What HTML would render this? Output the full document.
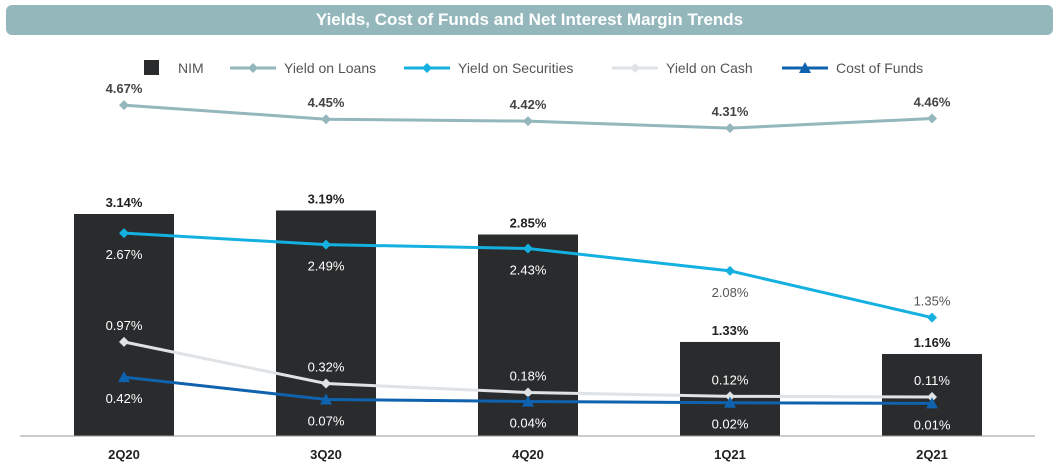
<!DOCTYPE html>
<html><head><meta charset="utf-8"><style>
body{margin:0;background:#fff;font-family:"Liberation Sans",Arial,sans-serif}
#wrap{position:relative;width:1059px;height:471px;overflow:hidden}
#title{position:absolute;left:6px;top:5px;width:1047px;height:30px;background:#93b7bb;border-radius:6px;color:#fff;font-weight:bold;font-size:17px;text-align:center;line-height:30px}
</style></head><body>
<div id="wrap">
<div id="title">Yields, Cost of Funds and Net Interest Margin Trends</div>
<svg id="svg" width="1059" height="471" style="position:absolute;left:0;top:0"></svg>
</div>
<script>
const categories=["2Q20","3Q20","4Q20","1Q21","2Q21"];
const nim=[3.14,3.19,2.85,1.33,1.16];
const loans=[4.67,4.45,4.42,4.31,4.46];
const securities=[2.67,2.49,2.43,2.08,1.35];
const cash=[0.97,0.32,0.18,0.12,0.11];
const cof=[0.42,0.07,0.04,0.02,0.01];
const NS="http://www.w3.org/2000/svg";
const svg=document.getElementById('svg');
function mk(t,a,parent){const e=document.createElementNS(NS,t);for(const k in a)e.setAttribute(k,a[k]);(parent||svg).appendChild(e);return e;}
const xc=i=>124+i*202;
const yBar=v=>436-v*70.7;
const yLine=v=>404-v*64;
// bars
nim.forEach((v,i)=>{
 const r=mk('rect',{x:xc(i)-50,y:yBar(v),width:100,height:436-yBar(v),fill:'#2a2b2d'});
 
 
 const t=mk('text',{x:xc(i),y:yBar(v)-7,'text-anchor':'middle','font-size':13,'font-weight':'bold',fill:'#222'});
 t.textContent=v.toFixed(2)+'%';
 
 
});
// axis
const ax=mk('line',{x1:20,x2:1035,y1:436,y2:436,stroke:'#999','stroke-width':1});


categories.forEach((c,i)=>{const t=mk('text',{x:xc(i),y:459,'text-anchor':'middle','font-size':13,'font-weight':'bold',fill:'#222'});t.textContent=c;
 
 });
function onBar(i,y){return y>yBar(nim[i])+4;}
function series(vals,color,name,marker,labelPos,bold){
 const pts=vals.map((v,i)=>xc(i)+','+yLine(v)).join(' ');
 const pl=mk('polyline',{points:pts,fill:'none',stroke:color,'stroke-width':3});
 
 
 vals.forEach((v,i)=>{
  const x=xc(i),y=yLine(v);let m;
  if(marker==='d')m=mk('polygon',{points:`${x},${y-5} ${x+5},${y} ${x},${y+5} ${x-5},${y}`,fill:color});
  else m=mk('polygon',{points:`${x},${y-6} ${x+6},${y+5} ${x-6},${y+5}`,fill:color});
  
  
  const pos=labelPos[i];const ty=pos==='a'?y-12:y+26;
  const t=mk('text',{x:x,y:ty,'text-anchor':'middle','font-size':13,'font-weight':bold?'bold':'normal',fill:bold?'#444':(onBar(i,ty)?'#fff':'#555')});
  t.textContent=v.toFixed(2)+'%';
  
  
 });
}
series(cash,'#dfe3e6','yield-on-cash','d',['a','a','a','a','a'],false);
series(cof,'#0f62ad','cost-of-funds','t',['b','b','b','b','b'],false);
series(securities,'#13b0e0','yield-on-securities','d',['b','b','b','b','a'],false);
series(loans,'#93b7bb','yield-on-loans','d',['a','a','a','a','a'],true);
// legend
const lg=mk('g',{});


mk('rect',{x:144,y:60,width:15,height:15,fill:'#2a2b2d'},lg);
const items=[[178,null,'NIM'],[230,'#93b7bb','Yield on Loans','d'],[404,'#13b0e0','Yield on Securities','d'],[612,'#dfe3e6','Yield on Cash','d'],[782,'#0f62ad','Cost of Funds','t']];
items.forEach(it=>{
 let tx=it[0];
 if(it[1]){mk('line',{x1:it[0],x2:it[0]+46,y1:68,y2:68,stroke:it[1],'stroke-width':3},lg);
  const x=it[0]+23;
  if(it[3]==='d')mk('polygon',{points:`${x},63 ${x+5},68 ${x},73 ${x-5},68`,fill:it[1]},lg);
  else mk('polygon',{points:`${x},62 ${x+6},73 ${x-6},73`,fill:it[1]},lg);
  tx=it[0]+54;}
 const t=mk('text',{x:tx,y:73,'font-size':14,fill:'#555'},lg);t.textContent=it[2];
 
 
});
</script>
</body></html>
